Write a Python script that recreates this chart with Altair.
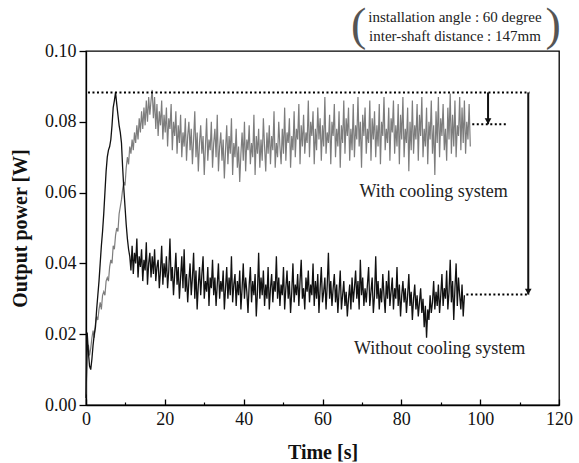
import altair as alt
import pandas as pd

# Sampling interval of the logged output power [s]
STEP = 0.3

# Output power [mW] with the cooling system running
with_cooling_mw = [
    3, 13, 17, 14, 16, 19, 21, 19, 23, 25,
    24, 27, 29, 27, 31, 32, 31, 35, 36, 35,
    39, 41, 40, 45, 44, 48, 50, 49, 54, 56,
    58, 61, 63, 62, 67, 70, 68, 73, 71, 75,
    72, 77, 74, 79, 75, 81, 77, 83, 78, 84,
    79, 86, 80, 87, 82, 86, 89,
    81, 87, 78, 85, 76, 83, 79, 86, 75, 82,
    77, 84, 73, 81, 78, 85, 72, 80, 76, 83,
    71, 79, 74, 82, 70, 77, 73, 81, 69, 76,
    80, 72, 78, 68, 75, 83, 70, 77, 66, 74,
    79, 71, 76, 65, 73, 81, 69, 75, 72, 80,
    67, 74, 78, 70, 82, 66, 73, 77, 69, 75,
    64, 72, 79, 68, 76, 71, 81, 65, 74, 70,
    78, 67, 73, 63, 71, 77, 69, 80, 66, 75,
    72, 79, 68, 74, 70, 82, 65, 76, 71, 78,
    67, 75, 69, 81, 73, 66, 77, 71, 79, 68,
    76, 72, 83, 67, 74, 70, 80, 73, 68, 78,
    71, 84, 69, 77, 74, 81, 67, 76, 72, 83,
    70, 78, 75, 85, 68, 79, 73, 82, 71, 77,
    74, 86, 70, 80, 76, 83, 68, 78, 72, 84,
    75, 81, 69, 79, 73, 87, 71, 77, 74, 82,
    68, 80, 76, 85, 70, 78, 73, 83, 67, 79,
    74, 86, 71, 81, 76, 84, 69, 78, 72, 85,
    70, 79, 75, 87, 73, 80, 67, 82, 76, 84,
    71, 78, 74, 86, 69, 81, 75, 83, 70, 79,
    73, 85, 68, 80, 76, 87, 72, 78, 74, 84,
    69, 81, 77, 86, 71, 79, 73, 85, 68, 82,
    75, 87, 70, 78, 74, 84, 66, 80, 72, 86,
    71, 79, 75, 85, 69, 82, 76, 87, 70, 78,
    73, 84, 68, 80, 75, 86, 71, 79, 65, 83,
    74, 87, 70, 81, 76, 85, 72, 78, 69, 84,
    75, 88, 71, 82, 73, 86, 70, 79, 76, 87,
    72, 84, 74, 86, 71, 80, 75, 85, 73,
]

# Output power [mW] without the cooling system
without_cooling_mw = [
    2, 20.5, 15, 11, 10, 13, 17, 20, 22, 27,
    31, 35, 40, 45, 49, 54, 60, 66, 70, 72,
    73, 75, 79, 84, 86, 88.3, 85, 82, 79, 77,
    74, 67, 61, 56, 51, 47, 44, 42,
    38, 45, 37, 43, 40, 47, 36, 42, 39, 44,
    35, 41, 38, 46, 34, 40, 43, 36, 42, 37,
    44, 35, 39, 41, 33, 38, 45, 34, 40, 36,
    42, 33, 38, 47, 35, 39, 31, 37, 43, 34,
    39, 30, 36, 42, 33, 44, 32, 37, 29, 35,
    40, 31, 36, 43, 30, 38, 27, 34, 39, 31,
    37, 42, 30, 35, 32, 39, 28, 36, 33, 41,
    31, 36, 28, 34, 40, 30, 35, 32, 38, 27,
    33, 39, 30, 36, 31, 42, 29, 34, 37, 28,
    35, 31, 38, 27, 33, 40, 30, 36, 32, 26,
    34, 39, 29, 35, 31, 37, 25, 32, 43, 30,
    36, 31, 38, 28, 34, 30, 39, 27, 33, 37,
    29, 35, 32, 42, 30, 36, 28, 34, 31, 39,
    27, 33, 38, 30, 35, 26, 32, 40, 29, 34,
    31, 37, 28, 35, 41, 30, 33, 27, 36, 32,
    38, 29, 34, 31, 40, 28, 35, 30, 37, 26,
    33, 39, 29, 32, 36, 27, 34, 43, 30, 35,
    28, 33, 37, 29, 34, 26, 32, 38, 27, 31,
    35, 28, 32, 25, 30, 34, 27, 36, 29, 33,
    38, 30, 35, 27, 41, 31, 36, 28, 33, 29,
    34, 39, 28, 32, 36, 26, 31, 42, 30, 35,
    27, 33, 29, 37, 31, 26, 35, 30, 38, 28,
    32, 36, 27, 33, 30, 39, 28, 34, 25, 31,
    35, 29, 33, 26, 31, 37, 28, 32, 24, 30,
    34, 27, 31, 25, 29, 33, 26, 30, 22, 28,
    19, 27, 24, 31, 26, 29, 35, 27, 32, 28,
    34, 26, 31, 37, 28, 33, 30, 38, 27, 32,
    41, 29, 35, 24, 33, 40, 28, 36, 31, 27,
    34, 25, 31,
]

# Reference levels [W]: common peak and the two settled levels
peak_level = 0.0883
cooled_level = 0.0793
uncooled_level = 0.0312

# Dotted guide lines: start time, end time, level
guide_start = [0.5, 98.0, 96.5]
guide_end = [112.5, 106.5, 112.5]
guide_level = [peak_level, cooled_level, uncooled_level]

# Drop arrows: time, from level, to level
arrow_time = [102.0, 112.2]
arrow_from = [peak_level, peak_level]
arrow_to = [cooled_level, uncooled_level]

# Curve labels
curve_label_text = ["With cooling system", "Without cooling system"]
curve_label_t = [88.2, 89.7]
curve_label_p = [0.0601, 0.0158]

# Test condition note above the frame
note_text = ["installation angle : 60 degree", "inter-shaft distance : 147mm"]
note_t = [93.6, 93.6]
note_p = [0.1095, 0.1041]
paren_text = ["(", ")"]
paren_t = [69.2, 118.5]
paren_p = [0.1072, 0.1072]

x_ticks = [0, 20, 40, 60, 80, 100, 120]
x_minor_ticks = [10, 30, 50, 70, 90, 110]
y_ticks = [0.0, 0.02, 0.04, 0.06, 0.08, 0.10]

SERIF = "Liberation Serif, Times New Roman, serif"

cool = pd.DataFrame({
    "t": [round(i * STEP, 1) for i in range(len(with_cooling_mw))],
    "p": [v / 1000 for v in with_cooling_mw],
})
nocool = pd.DataFrame({
    "t": [round(i * STEP, 1) for i in range(len(without_cooling_mw))],
    "p": [v / 1000 for v in without_cooling_mw],
})
guides = pd.DataFrame({"t": guide_start, "t2": guide_end, "p": guide_level})
arrows = pd.DataFrame({"t": arrow_time, "p": arrow_from, "p2": arrow_to})
heads = pd.DataFrame({"t": arrow_time, "p": arrow_to})
curve_labels = pd.DataFrame({"t": curve_label_t, "p": curve_label_p, "text": curve_label_text})
notes = pd.DataFrame({"t": note_t, "p": note_p, "text": note_text})
parens = pd.DataFrame({"t": paren_t, "p": paren_p, "text": paren_text})

x_scale = alt.Scale(domain=[0, 120], nice=False)
y_scale = alt.Scale(domain=[0, 0.10], nice=False)

# Labelled bottom axis (no ticks; ticks drawn inward by the two axes below)
x_axis_main = alt.Axis(
    orient="bottom", values=x_ticks, ticks=False, grid=False,
    labelFont=SERIF, labelFontSize=18, labelPadding=5, labelFlush=False,
    labelColor="#111111",
    title="Time [s]", titleFont=SERIF, titleFontSize=20, titleFontWeight="bold",
    titlePadding=14, titleColor="#111111",
)
# Inward major ticks
x_axis_major = alt.Axis(
    orient="bottom", values=x_ticks, offset=-6, tickSize=6, tickWidth=1.3,
    labels=False, domain=False, grid=False, title="",
)
# Inward minor ticks
x_axis_minor = alt.Axis(
    orient="bottom", values=x_minor_ticks, offset=-3, tickSize=3, tickWidth=1.2,
    labels=False, domain=False, grid=False, title="",
)
y_axis = alt.Axis(
    values=y_ticks, format=".2f", tickSize=7, tickWidth=1.3, grid=False,
    labelFont=SERIF, labelFontSize=18, labelPadding=3, labelColor="#111111",
    title="Output power [W]", titleFont=SERIF, titleFontSize=20,
    titleFontWeight="bold", titlePadding=14, titleColor="#111111",
)


def y_enc():
    return alt.Y("p:Q", scale=y_scale, axis=y_axis, title="Output power [W]")


gray_line = alt.Chart(cool).mark_line(color="#7d7d7d", strokeWidth=1.2).encode(
    x=alt.X("t:Q", scale=x_scale, axis=x_axis_main, title="Time [s]"),
    y=y_enc(),
)
black_line = alt.Chart(nocool).mark_line(color="#111111", strokeWidth=1.3).encode(
    x=alt.X("t:Q", scale=x_scale, axis=x_axis_major),
    y=y_enc(),
)
guide_rules = alt.Chart(guides).mark_rule(
    color="black", strokeWidth=2, strokeDash=[2, 2.5]
).encode(
    x=alt.X("t:Q", scale=x_scale, axis=x_axis_minor),
    x2="t2:Q",
    y=y_enc(),
)
arrow_rules = alt.Chart(arrows).mark_rule(color="#111111", strokeWidth=2).encode(
    x=alt.X("t:Q", scale=x_scale, axis=None),
    y=y_enc(),
    y2="p2:Q",
)
arrow_heads = alt.Chart(heads).mark_point(
    shape="triangle-down", filled=True, color="#111111", size=45, opacity=1, yOffset=-3
).encode(
    x=alt.X("t:Q", scale=x_scale, axis=None),
    y=y_enc(),
)
label_text = alt.Chart(curve_labels).mark_text(
    font=SERIF, fontSize=18, color="#222222", align="center", baseline="middle"
).encode(
    x=alt.X("t:Q", scale=x_scale, axis=None),
    y=y_enc(),
    text="text:N",
)
note_marks = alt.Chart(notes).mark_text(
    font=SERIF, fontSize=15, color="#222222", align="center", baseline="middle"
).encode(
    x=alt.X("t:Q", scale=x_scale, axis=None),
    y=y_enc(),
    text="text:N",
)
paren_marks = alt.Chart(parens).mark_text(
    font=SERIF, fontSize=46, color="#555555", align="center", baseline="middle"
).encode(
    x=alt.X("t:Q", scale=x_scale, axis=None),
    y=y_enc(),
    text="text:N",
)

chart = (
    alt.layer(
        gray_line, black_line, guide_rules, arrow_rules, arrow_heads,
        label_text, note_marks, paren_marks,
    )
    .resolve_axis(x="independent")
    .properties(
        width=473, height=354,
        autosize=alt.AutoSizeParams(type="none"),
        padding={"left": 86, "top": 51, "right": 20, "bottom": 58},
        background="white",
    )
    .configure_view(stroke="black", strokeWidth=1.3)
    .configure_axis(
        labelFont=SERIF, titleFont=SERIF,
        domainColor="black", domainWidth=1.3, tickColor="black",
    )
)

chart.save("out.html", embed_options={"renderer": "svg", "actions": False})
